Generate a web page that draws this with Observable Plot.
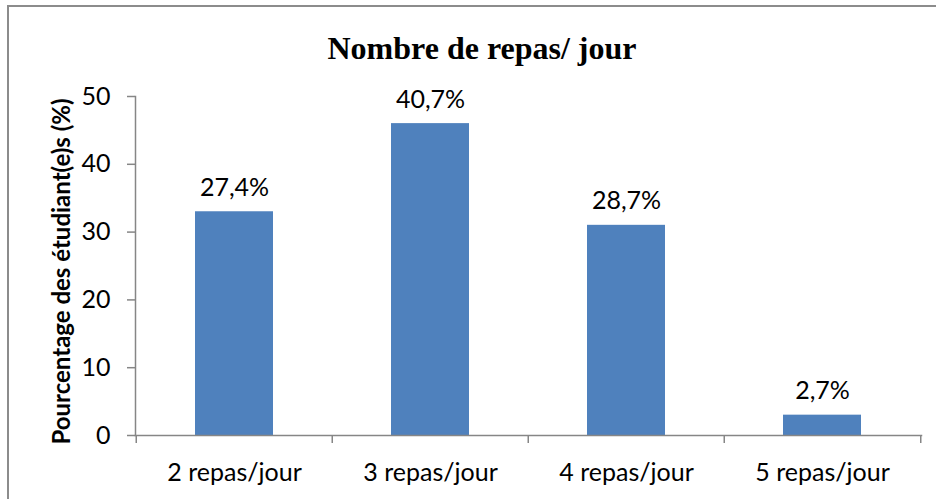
<!DOCTYPE html>
<html>
<head>
<meta charset="utf-8">
<script src="https://cdn.jsdelivr.net/npm/d3@7"></script>
<script src="https://cdn.jsdelivr.net/npm/@observablehq/plot@0.6"></script>
<style>
  html, body { margin: 0; padding: 0; background: #fff; overflow: hidden; }
  #wrap { position: relative; width: 936px; height: 499px; overflow: hidden; }
  #border { position: absolute; left: 7px; top: 5px; width: 1000px; height: 600px;
            border-left: 2px solid #8c8c8c; border-top: 2px solid #8c8c8c; box-sizing: border-box; }
  #chart { position: absolute; left: 0; top: 0; }
</style>
</head>
<body>
<div id="wrap"><div id="border"></div><div id="chart"></div></div>
<script>
const title = "Nombre de repas/ jour";
const yTitle = "Pourcentage des étudiant(e)s (%)";
const categories = ["2 repas/jour", "3 repas/jour", "4 repas/jour", "5 repas/jour"];
const values = [33, 46, 31, 3];
const labels = ["27,4%", "40,7%", "28,7%", "2,7%"];
const yTicks = [0, 10, 20, 30, 40, 50];

const data = categories.map((c, i) => ({cat: c, value: values[i], label: labels[i]}));

const W = 936, H = 499, mL = 135, mR = 15, mT = 96, mB = 64;
const half = (W - mL - mR) / categories.length / 2;
const gray = "#868686";
const sans = "Lato, 'Open Sans', sans-serif";

const plot = Plot.plot({
  width: W, height: H,
  marginLeft: mL, marginRight: mR, marginTop: mT, marginBottom: mB,
  style: {fontFamily: sans, background: "transparent", overflow: "visible"},
  x: {domain: categories, paddingInner: 0.6, paddingOuter: 0.3, label: null},
  y: {domain: [0, 50], label: null},
  marks: [
    Plot.barY(data, {x: "cat", y: "value", fill: "#4F81BD"}),
    Plot.frame({anchor: "left", stroke: gray, strokeWidth: 1.5}),
    Plot.frame({anchor: "bottom", stroke: gray, strokeWidth: 1.5}),
    Plot.axisY({ticks: yTicks, tickSize: 8, tickPadding: 17, stroke: gray, strokeWidth: 1.5, fill: "black", fontSize: 25, label: null}),
    Plot.axisX({tickSize: 0, tickPadding: 28, fill: "black", fontSize: 25, label: null}),
    Plot.ruleX(categories, {x: d => d, dx: -half, insetTop: H - mT - mB, insetBottom: -8, stroke: gray, strokeWidth: 1.5}),
    Plot.ruleX(categories.slice(-1), {x: d => d, dx: half, insetTop: H - mT - mB, insetBottom: -8, stroke: gray, strokeWidth: 1.5}),
    Plot.text(data, {x: "cat", y: "value", text: "label", lineAnchor: "bottom", dy: -16, fontSize: 25, fill: "black"}),
    Plot.text([title], {frameAnchor: "top", lineAnchor: "middle", textAnchor: "middle", dx: 481.5 - (mL + (W - mL - mR) / 2), dy: -48, fontFamily: "'Liberation Serif', 'Times New Roman', serif", fontWeight: "bold", fontSize: 32, fill: "black"}),
    Plot.text([yTitle], {frameAnchor: "left", textAnchor: "middle", lineAnchor: "middle", rotate: -90, dx: -73, dy: 5.5, fontWeight: "bold", fontSize: 24, fill: "black"})
  ]
});
document.getElementById("chart").appendChild(plot);
</script>
</body>
</html>
